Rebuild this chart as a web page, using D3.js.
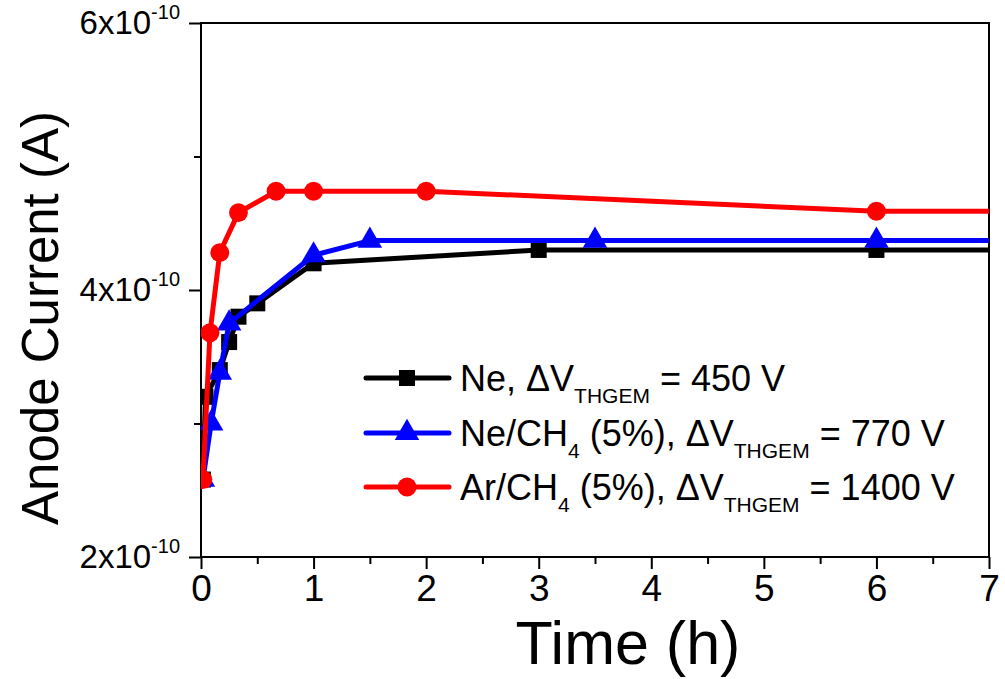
<!DOCTYPE html>
<html><head><meta charset="utf-8">
<script src="https://cdn.jsdelivr.net/npm/d3@7/dist/d3.min.js"></script>
<style>
html,body{margin:0;padding:0;background:#fff;}
svg text{font-family:"Liberation Sans",Arimo,Arial,Helvetica,sans-serif;fill:#000;}
</style></head>
<body>
<svg id="chart" width="1005" height="679"></svg>
<script>
// Data (time in hours, current in units of 1e-10 A)
const neTime   = [0.017, 0.04, 0.167, 0.25, 0.333, 0.5, 1, 3, 6, 8];
const neVal    = [2.58, 3.2, 3.4, 3.61, 3.8, 3.9, 4.2, 4.3, 4.3, 4.3];

const nech4Time = [0.017, 0.09, 0.167, 0.25, 1, 1.5, 3.5, 6, 8];
const nech4Val  = [2.58, 3.0, 3.38, 3.75, 4.26, 4.37, 4.37, 4.37, 4.37];

const arch4Time = [0.017, 0.08, 0.167, 0.333, 0.667, 1, 2, 6, 8];
const arch4Val  = [2.58, 3.68, 4.28, 4.58, 4.74, 4.74, 4.74, 4.59, 4.59];

const xTicks = [0, 1, 2, 3, 4, 5, 6, 7];
const xMinorTicks = [0.5, 1.5, 2.5, 3.5, 4.5, 5.5, 6.5];
const yTicks = [2, 4, 6];
const yMinorTicks = [3, 5];

const seriesColors = ["#000000", "#0000ff", "#ff0000"];

const svg = d3.select("#chart");
const L = 201, R = 989, T = 23, B = 557;
const x = d3.scaleLinear().domain([0, 7]).range([L, R]);
const y = d3.scaleLinear().domain([2, 6]).range([B, T]);

svg.append("defs").append("clipPath").attr("id", "clip")
  .append("rect").attr("x", L).attr("y", T).attr("width", R - L).attr("height", B - T);

// Axes
const xAxis = svg.append("g").attr("transform", `translate(0,${B})`)
  .call(d3.axisBottom(x).tickValues(xTicks).tickSize(12).tickSizeOuter(0).tickPadding(6).tickFormat(d3.format("d")));
xAxis.select(".domain").remove();
xAxis.selectAll("line").attr("stroke-width", 2);
xAxis.selectAll("text").attr("font-size", 37);
svg.append("g").attr("transform", `translate(0,${B})`)
  .call(d3.axisBottom(x).tickValues(xMinorTicks).tickSize(7).tickFormat(""))
  .call(g => { g.select(".domain").remove(); g.selectAll("line").attr("stroke-width", 2); });

const yAxis = svg.append("g").attr("transform", `translate(${L},0)`)
  .call(d3.axisLeft(y).tickValues(yTicks).tickSize(12).tickFormat(""));
yAxis.select(".domain").remove();
yAxis.selectAll("line").attr("stroke-width", 2);
svg.append("g").attr("transform", `translate(${L},0)`)
  .call(d3.axisLeft(y).tickValues(yMinorTicks).tickSize(7).tickFormat(""))
  .call(g => { g.select(".domain").remove(); g.selectAll("line").attr("stroke-width", 2); });

// y tick labels with superscripts
yTicks.forEach(v => {
  const t = svg.append("text").attr("x", L - 21).attr("y", y(v) + 11)
    .attr("text-anchor", "end").attr("font-size", 33);
  t.append("tspan").text(v + "x10");
  t.append("tspan").attr("font-size", 20).attr("dy", -15).text("-10");
});

// frame
svg.append("rect").attr("x", L).attr("y", T).attr("width", R - L).attr("height", B - T)
  .attr("fill", "none").attr("stroke", "#000").attr("stroke-width", 2);

// Axis titles
svg.append("text").attr("x", 628).attr("y", 664).attr("text-anchor", "middle")
  .attr("font-size", 61).text("Time (h)");
svg.append("text").attr("transform", `translate(58,${318}) rotate(-90)`).attr("text-anchor", "middle")
  .attr("font-size", 51).text("Anode Current (A)");

// Data
const plot = svg.append("g").attr("clip-path", "url(#clip)");
const line = d3.line().x(d => x(d[0])).y(d => y(d[1]));
const neData = neTime.map((t, i) => [t, neVal[i]]);
const nech4Data = nech4Time.map((t, i) => [t, nech4Val[i]]);
const arch4Data = arch4Time.map((t, i) => [t, arch4Val[i]]);

function drawSeries(data, color, sym, size) {
  plot.append("path").datum(data).attr("d", line).attr("fill", "none")
    .attr("stroke", color).attr("stroke-width", 5).attr("stroke-linejoin", "round");
  plot.selectAll(null).data(data.filter(d => d[0] <= 7)).enter().append("path")
    .attr("d", d3.symbol().type(sym).size(size))
    .attr("transform", d => `translate(${x(d[0])},${y(d[1])})`)
    .attr("fill", color);
}
drawSeries(neData, seriesColors[0], d3.symbolSquare, 256);
drawSeries(nech4Data, seriesColors[1], d3.symbolTriangle, 260);
drawSeries(arch4Data, seriesColors[2], d3.symbolCircle, 280);

// Legend
const legendY = [378, 433, 487];
const syms = [[d3.symbolSquare, 256], [d3.symbolTriangle, 260], [d3.symbolCircle, 280]];
const lg = svg.append("g");
legendY.forEach((ly, i) => {
  lg.append("line").attr("x1", 366).attr("x2", 449).attr("y1", ly).attr("y2", ly)
    .attr("stroke", seriesColors[i]).attr("stroke-width", 5).attr("stroke-linecap", "round");
  lg.append("path").attr("d", d3.symbol().type(syms[i][0]).size(syms[i][1])())
    .attr("transform", `translate(407,${ly})`).attr("fill", seriesColors[i]);
});
function legendText(ly, parts) {
  const t = lg.append("text").attr("x", 460).attr("y", ly + 13).attr("font-size", 36);
  parts.forEach(p => {
    const s = t.append("tspan").text(p.t);
    if (p.sub) s.attr("font-size", 21).attr("dy", 12);
    if (p.up) s.attr("dy", -12);
  });
}
legendText(legendY[0], [{t: "Ne, \u0394V"}, {t: "THGEM", sub: true}, {t: " = 450 V", up: true}]);
legendText(legendY[1], [{t: "Ne/CH"}, {t: "4", sub: true}, {t: " (5%), \u0394V", up: true}, {t: "THGEM", sub: true}, {t: " = 770 V", up: true}]);
legendText(legendY[2], [{t: "Ar/CH"}, {t: "4", sub: true}, {t: " (5%), \u0394V", up: true}, {t: "THGEM", sub: true}, {t: " = 1400 V", up: true}]);
</script>
</body></html>
